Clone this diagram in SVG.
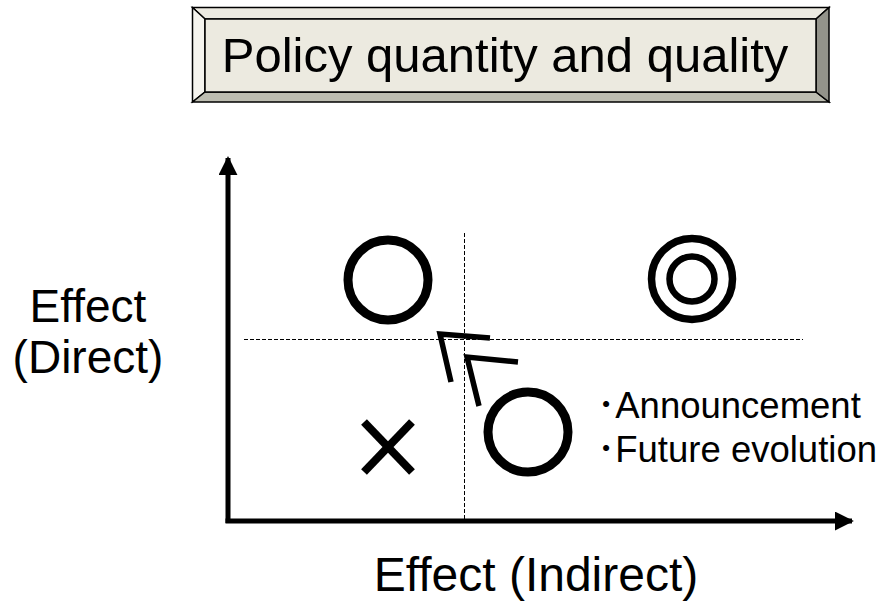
<svg xmlns="http://www.w3.org/2000/svg" width="885" height="601" viewBox="0 0 885 601">
  <style>
    .t { font-family: "Liberation Sans", Arial, "Noto Sans CJK JP", sans-serif; fill: #000; }
    .bev { stroke: #000; stroke-width: 1.5; stroke-linejoin: miter; }
    .axis { stroke: #000; stroke-width: 5; fill: none; }
    .dash { stroke: #000; stroke-width: 1; stroke-dasharray: 4 2; fill: none; }
    .sym { stroke: #000; fill: none; }
    .chev { stroke: #000; stroke-width: 5.5; fill: none; stroke-linejoin: miter; stroke-linecap: butt; }
  </style>
  <defs>
    <marker id="ah" viewBox="0 0 10 10" refX="9" refY="5" markerWidth="3.8" markerHeight="3.8" markerUnits="strokeWidth" orient="auto">
      <path d="M0,0 L10,5 L0,10 Z" fill="#000"/>
    </marker>
  </defs>
  <rect width="885" height="601" fill="#fff"/>

  <g id="title">
    <polygon points="192.5,7.5 829,7.5 816,19 205,19" fill="#ECEAE1" class="bev"/>
    <polygon points="192.5,7.5 205,19 205,92 192.5,102" fill="#F5F4EE" class="bev"/>
    <polygon points="192.5,102 205,92 816,92 829,102" fill="#BDBDB1" class="bev"/>
    <polygon points="829,7.5 829,102 816,92 816,19" fill="#93938A" class="bev"/>
    <rect x="205" y="19" width="611" height="73" fill="#ECEAE0" class="bev"/>
    <text class="t" x="505" y="72" font-size="49" text-anchor="middle">Policy quantity and quality</text>
  </g>

  <g id="connectors">
    <line class="axis" x1="228" y1="523" x2="228" y2="158" marker-end="url(#ah)"/>
    <line class="axis" x1="225.5" y1="521" x2="852" y2="521" marker-end="url(#ah)"/>
    <line class="dash" x1="464.5" y1="233" x2="464.5" y2="522"/>
    <line class="dash" x1="244" y1="339.5" x2="803" y2="339.5"/>
    <polyline class="chev" points="490,338 440,334 451,382"/>
    <polyline class="chev" points="518,362 467,357 479,406"/>
  </g>

  <g id="label-y">
    <text class="t" x="88" y="322" font-size="46" text-anchor="middle">Effect</text>
    <text class="t" x="88" y="373" font-size="46" text-anchor="middle">(Direct)</text>
  </g>
  <g id="label-x">
    <text class="t" x="536" y="591" font-size="48" text-anchor="middle">Effect (Indirect)</text>
  </g>

  <g id="q-top-left">
    <circle class="sym" cx="388" cy="280" r="40" stroke-width="9"/>
  </g>
  <g id="q-top-right">
    <circle class="sym" cx="692" cy="279" r="40.5" stroke-width="7.5"/>
    <circle class="sym" cx="692" cy="279" r="22.5" stroke-width="6.5"/>
  </g>
  <g id="q-bottom-left">
    <line class="sym" x1="364" y1="422" x2="412" y2="472" stroke-width="8"/>
    <line class="sym" x1="412" y1="422" x2="364" y2="472" stroke-width="8"/>
  </g>
  <g id="q-bottom-right">
    <circle class="sym" cx="528" cy="432" r="40" stroke-width="9"/>
  </g>
  <g id="notes">
    <text class="t" x="597" y="418" font-size="36.5">･Announcement</text>
    <text class="t" x="597" y="462" font-size="36.5">･Future evolution</text>
  </g>
</svg>
